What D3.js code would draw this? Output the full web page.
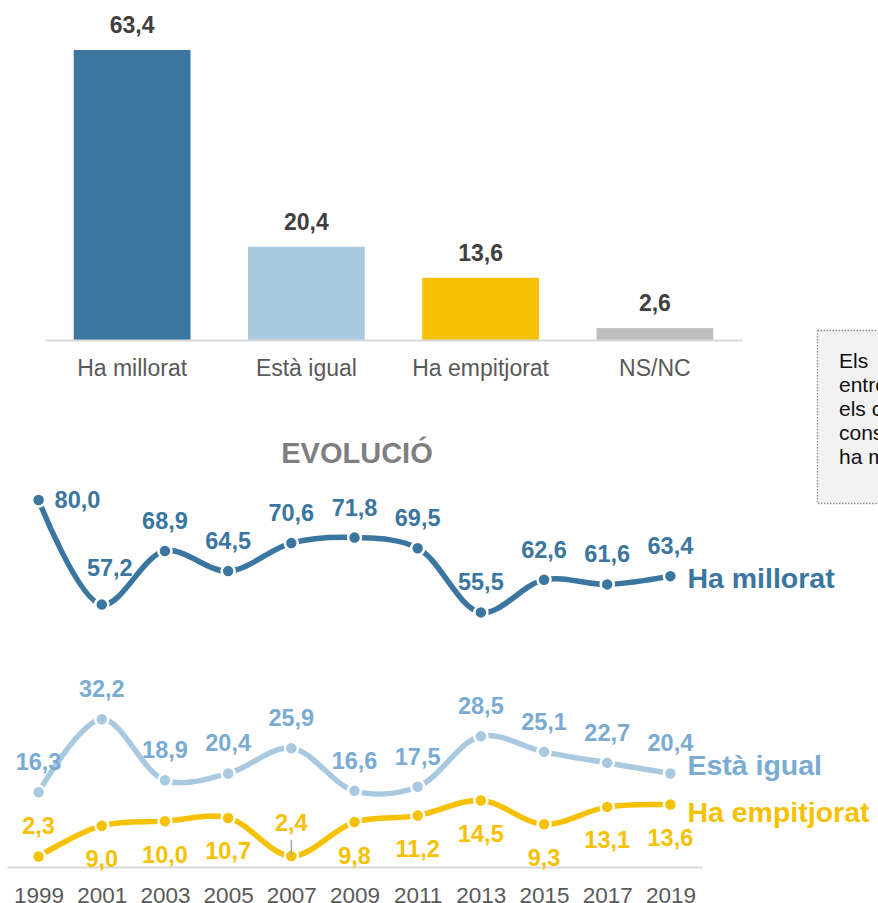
<!DOCTYPE html>
<html>
<head>
<meta charset="utf-8">
<script src="https://cdn.jsdelivr.net/npm/d3@7"></script>
<style>
  body { margin: 0; background: #fff; }
  svg { display: block; font-family: 'Liberation Sans', Arial, sans-serif; }
</style>
</head>
<body>
<div id="chart"></div>
<script>
// current answer
const categories = ['Ha millorat', 'Està igual', 'Ha empitjorat', 'NS/NC'];
const current = [63.4, 20.4, 13.6, 2.6];

// evolution
const years = ['1999', '2001', '2003', '2005', '2007', '2009', '2011', '2013', '2015', '2017', '2019'];
const millorat = [80.0, 57.2, 68.9, 64.5, 70.6, 71.8, 69.5, 55.5, 62.6, 61.6, 63.4];
const igual = [16.3, 32.2, 18.9, 20.4, 25.9, 16.6, 17.5, 28.5, 25.1, 22.7, 20.4];
const empitjorat = [2.3, 9.0, 10.0, 10.7, 2.4, 9.8, 11.2, 14.5, 9.3, 13.1, 13.6];

const noteLines = ['Els', 'entrevistats', 'els ciutadans', 'consideren que', 'ha millorat'];

const WIDTH = 878, HEIGHT = 903;
const barColors = ['#3a76a0', '#a9c9e0', '#f6c100', '#bfbfbf'];

const ca = d3.formatLocale({ decimal: ',', thousands: '.', grouping: [3], currency: ['', ' €'] });
const fmt = ca.format('.1f');

const svg = d3
  .select('#chart')
  .append('svg')
  .attr('width', WIDTH)
  .attr('height', HEIGHT);

// ---- bars ----
const xBar = d3.scaleBand().domain(categories).range([45, 742]).paddingInner(0.33).paddingOuter(0.165);
const yBar = d3.scaleLinear().domain([0, d3.max(current)]).range([340, 50]);

svg
  .selectAll('rect.bar')
  .data(current)
  .enter()
  .append('rect')
  .attr('class', 'bar')
  .attr('x', (d, i) => xBar(categories[i]))
  .attr('y', d => yBar(d))
  .attr('width', xBar.bandwidth())
  .attr('height', d => yBar(0) - yBar(d))
  .style('fill', (d, i) => barColors[i]);

svg
  .selectAll('text.barval')
  .data(current)
  .enter()
  .append('text')
  .attr('class', 'barval')
  .attr('x', (d, i) => xBar(categories[i]) + xBar.bandwidth() / 2)
  .attr('y', d => yBar(d) - 17)
  .attr('text-anchor', 'middle')
  .style('font-size', '23px')
  .style('font-weight', 'bold')
  .style('fill', '#404040')
  .text(d => fmt(d));

const barAxis = svg
  .append('g')
  .attr('transform', 'translate(0,' + yBar(0) + ')')
  .call(d3.axisBottom(xBar).tickSize(0).tickPadding(20));
barAxis.select('.domain').attr('stroke', '#d9d9d9').attr('stroke-width', 2);
barAxis.selectAll('text').style('font-size', '23px').style('fill', '#595959').style('font-family', 'inherit');

// ---- note box (runs past the right edge) ----
svg
  .append('rect')
  .attr('x', 817.5)
  .attr('y', 330.5)
  .attr('width', 90)
  .attr('height', 173)
  .style('fill', '#f2f2f2')
  .style('stroke', '#8c8c8c')
  .style('stroke-width', 1.3)
  .style('stroke-dasharray', '1.5,1.5');

svg
  .selectAll('text.note')
  .data(noteLines)
  .enter()
  .append('text')
  .attr('class', 'note')
  .attr('x', 839)
  .attr('y', (d, i) => 368 + i * 24)
  .style('font-size', '21px')
  .style('fill', '#111')
  .text(d => d);

// ---- evolution ----
svg
  .append('text')
  .attr('x', 357)
  .attr('y', 463)
  .attr('text-anchor', 'middle')
  .style('font-size', '29px')
  .style('font-weight', 'bold')
  .style('fill', '#7f7f7f')
  .text('EVOLUCIÓ');

const x = d3.scalePoint().domain(years).range([7, 702]).padding(0.5);
const y = d3.scaleLinear().domain([0, 80]).range([867, 500]);

const lineAxis = svg
  .append('g')
  .attr('transform', 'translate(0,' + y(0) + ')')
  .call(d3.axisBottom(x).tickSize(0).tickPadding(20));
lineAxis.select('.domain').attr('stroke', '#d9d9d9').attr('stroke-width', 2);
lineAxis.selectAll('text').style('font-size', '22.5px').style('fill', '#595959').style('font-family', 'inherit');

const series = [
  {
    name: 'Ha millorat', values: millorat, color: '#3a76a0', labelColor: '#3a76a0',
    place: ['right', 'aboveRight', 'above', 'above', 'above', 'above', 'above', 'above', 'above', 'above', 'above'],
    endShift: 12,
  },
  {
    name: 'Està igual', values: igual, color: '#a9c9e0', labelColor: '#7aabd3',
    place: years.map(() => 'above'),
    endShift: 2,
  },
  {
    name: 'Ha empitjorat', values: empitjorat, color: '#f6c100', labelColor: '#f6c100',
    place: ['above', 'below', 'below', 'below', 'aboveLeader', 'below', 'below', 'below', 'below', 'below', 'below'],
    endShift: 17.5,
  },
];

const line = d3
  .line()
  .x((d, i) => x(years[i]))
  .y(d => y(d))
  .curve(d3.curveCatmullRom.alpha(0.5));

series.forEach(s => {
  const g = svg.append('g');

  g.append('path')
    .attr('d', line(s.values))
    .style('fill', 'none')
    .style('stroke', s.color)
    .style('stroke-width', 5.5)
    .style('stroke-linecap', 'round');

  g.selectAll('circle')
    .data(s.values)
    .enter()
    .append('circle')
    .attr('cx', (d, i) => x(years[i]))
    .attr('cy', d => y(d))
    .attr('r', 6.5)
    .style('fill', s.color)
    .style('stroke', '#fff')
    .style('stroke-width', 2.5);

  // leader for labels placed away from their point
  const leaders = s.values.map((d, i) => ({ d, i })).filter(p => s.place[p.i] === 'aboveLeader');
  g.selectAll('line.leader')
    .data(leaders)
    .enter()
    .append('line')
    .attr('x1', p => x(years[p.i]))
    .attr('x2', p => x(years[p.i]))
    .attr('y1', p => y(p.d) - 16)
    .attr('y2', p => y(p.d) - 1)
    .style('stroke', '#a6a6a6')
    .style('stroke-width', 1.5);

  g.selectAll('text.val')
    .data(s.values)
    .enter()
    .append('text')
    .attr('class', 'val')
    .attr('x', (d, i) => {
      const px = x(years[i]);
      if (s.place[i] === 'right') return px + 16;
      if (s.place[i] === 'aboveRight') return px + 8;
      return px;
    })
    .attr('y', (d, i) => {
      const py = y(d);
      const p = s.place[i];
      if (p === 'right') return py + 8.4;
      if (p === 'aboveRight') return py - 29;
      if (p === 'below') return py + 41.5;
      if (p === 'aboveLeader') return py - 25;
      return py - 22;
    })
    .attr('text-anchor', (d, i) => (s.place[i] === 'right' ? 'start' : 'middle'))
    .style('font-size', '23.5px')
    .style('font-weight', 'bold')
    .style('fill', s.labelColor)
    .text(d => fmt(d));

  const last = s.values.length - 1;
  g.append('text')
    .attr('x', x(years[last]) + 17)
    .attr('y', y(s.values[last]) + s.endShift)
    .style('font-size', '28.5px')
    .style('font-weight', 'bold')
    .style('fill', s.labelColor)
    .text(s.name);
});
</script>
</body>
</html>
